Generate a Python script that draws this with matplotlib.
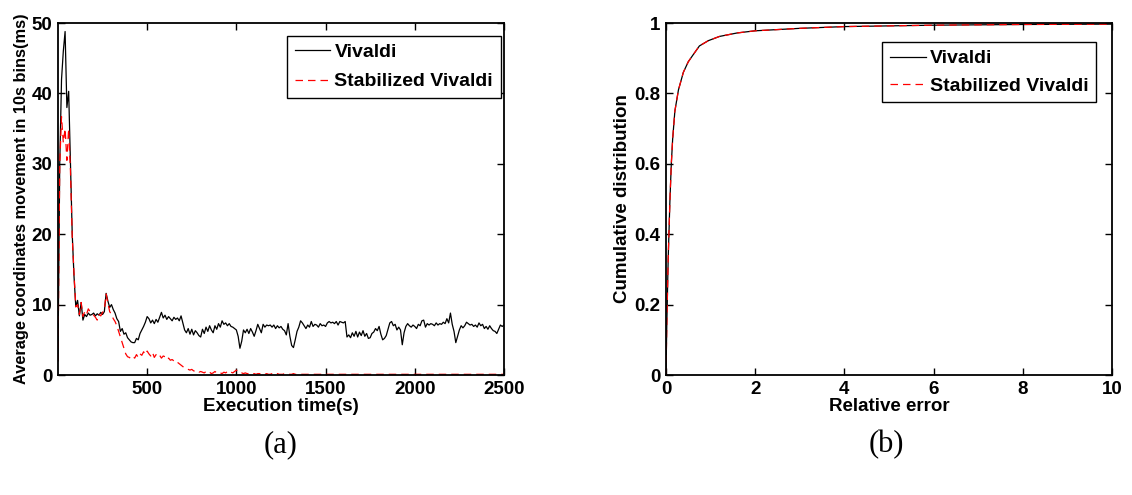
import numpy as np
import matplotlib.pyplot as plt

# left panel: average coordinate movement per 10 s bin
time_s = np.arange(0, 2510, 10)

vivaldi = [
    2, 30, 42, 46, 48.8, 38, 40.3, 30, 20, 14,
    9.7, 10.6, 8.4, 10.3, 7.8, 8.6, 8.3, 8.8, 8.5, 8.6,
    8.8, 8.4, 8.7, 8.5, 8.9, 8.6, 9.0, 11.6, 10.5, 9.6,
    10.0, 9.3, 8.8, 8.0, 7.6, 6.2, 6.6, 5.8, 6.0, 5.3,
    5.0, 4.7, 4.6, 4.6, 5.2, 5.0, 5.9, 6.4, 6.9, 7.5,
    8.3, 8.0, 7.4, 7.8, 7.3, 7.9, 7.5, 8.2, 8.9, 8.1,
    8.5, 7.9, 8.3, 8.0, 7.7, 8.2, 7.9, 8.1, 7.7, 8.4,
    7.4, 6.4, 6.0, 6.6, 5.8, 6.5, 5.7, 6.3, 6.0, 5.6,
    5.4, 6.5, 5.9, 6.8, 6.2, 7.0, 6.4, 6.0, 7.0, 6.5,
    7.3, 6.8, 7.7, 7.2, 7.4, 7.0, 7.3, 6.9, 6.8, 6.6,
    6.4, 5.5, 3.8, 4.8, 6.4, 6.0, 6.5, 5.9, 6.6, 6.1,
    5.5, 6.3, 7.2, 6.6, 6.0, 7.2, 6.8, 7.1, 7.0, 7.1,
    6.8, 7.1, 6.6, 7.0, 6.7, 6.9, 6.5, 6.3, 5.7, 7.3,
    5.5, 4.2, 3.9, 5.0, 6.2, 6.8, 7.7, 7.4, 7.0, 6.6,
    7.1, 6.8, 7.6, 6.9, 7.2, 7.1, 6.8, 7.3, 7.0, 7.1,
    6.9, 7.4, 7.6, 7.4, 7.5, 7.3, 7.6, 7.1, 7.6, 7.5,
    7.4, 7.6, 5.4, 5.7, 5.3, 6.0, 5.5, 6.2, 5.4, 6.1,
    5.6, 6.3, 5.5, 5.9, 5.2, 5.3, 5.9, 6.1, 6.6, 6.3,
    6.9, 5.8, 5.0, 5.2, 5.6, 6.5, 7.4, 7.6, 7.0, 7.2,
    6.4, 6.8, 6.4, 4.3, 6.0, 6.9, 7.3, 7.0, 6.8, 7.1,
    6.9, 6.6, 7.2, 7.0, 7.7, 7.8, 6.8, 7.3, 7.1, 7.3,
    7.2, 7.0, 7.4, 7.1, 7.3, 7.2, 7.5, 7.3, 8.0, 7.4,
    8.8, 7.2, 6.2, 4.6, 5.5, 6.4, 7.0, 6.7, 7.0, 7.5,
    7.3, 7.1, 7.2, 6.9, 7.1, 6.8, 7.4, 7.0, 7.2, 6.6,
    6.9, 6.5, 7.0, 6.6, 6.3, 6.2, 5.9, 6.5, 7.1, 6.9,
    7.1,
]

stabilized = [
    2, 30, 36.7, 33, 35, 30.5, 35, 29, 19.6, 14.4,
    9.7, 10.0, 8.6, 10.3, 8.3, 9.0, 8.6, 9.4, 9.0, 8.8,
    8.5, 8.2, 7.8, 8.6, 8.4, 8.9, 9.3, 11.5, 10.2, 9.0,
    8.6, 8.0, 7.6, 7.0, 6.2, 5.4, 4.6, 3.8, 3.0, 2.6,
    2.5, 2.3, 2.6, 2.4, 2.9, 2.5, 3.0, 2.8, 3.3, 2.9,
    3.4, 3.0, 2.7, 3.2, 2.5, 2.9, 2.6, 2.8, 2.4, 2.7,
    2.6, 2.2, 2.4, 2.1, 2.2, 2.0, 2.1, 1.8, 1.6, 1.4,
    1.2, 1.0, 0.9, 0.8, 0.7, 0.8, 0.6, 0.5, 0.6, 0.4,
    0.5, 0.4, 0.3, 0.5, 0.3, 0.4, 0.2, 0.3, 0.5, 0.3,
    0.4, 0.3, 0.2, 0.4, 0.3, 0.5, 0.6, 0.4, 0.3, 0.5,
    0.7, 0.4, 0.3, 0.3, 0.2, 0.3, 0.2, 0.2, 0.3, 0.2,
    0.2, 0.1, 0.2, 0.2, 0.1, 0.2, 0.1, 0.2, 0.1, 0.1,
    0.2, 0.1, 0.1, 0.2, 0.1, 0.1, 0.1, 0.2, 0.1, 0.1,
    0.1, 0.1, 0.2, 0.1, 0.1, 0.1, 0.1, 0.1, 0.1, 0.1,
    0.1, 0.1, 0.1, 0.1, 0.1, 0.1, 0.1, 0.1, 0.1, 0.1,
    0.1, 0.1, 0.1, 0.1, 0.1, 0.1, 0.1, 0.1, 0.1, 0.1,
    0.1, 0.1, 0.1, 0.1, 0.1, 0.1, 0.1, 0.1, 0.1, 0.1,
    0.1, 0.1, 0.1, 0.1, 0.1, 0.1, 0.1, 0.1, 0.1, 0.1,
    0.1, 0.1, 0.1, 0.1, 0.1, 0.1, 0.1, 0.1, 0.1, 0.1,
    0.1, 0.1, 0.1, 0.1, 0.1, 0.1, 0.1, 0.1, 0.1, 0.1,
    0.1, 0.1, 0.1, 0.1, 0.1, 0.1, 0.1, 0.1, 0.1, 0.1,
    0.1, 0.1, 0.1, 0.1, 0.1, 0.1, 0.1, 0.1, 0.1, 0.1,
    0.1, 0.1, 0.1, 0.1, 0.1, 0.1, 0.1, 0.1, 0.1, 0.1,
    0.1, 0.1, 0.1, 0.1, 0.1, 0.1, 0.1, 0.1, 0.1, 0.1,
    0.1, 0.1, 0.1, 0.1, 0.1, 0.1, 0.1, 0.1, 0.1, 0.1,
    0.1,
]

# right panel: CDF of relative error
rel_err = [0, 0.02, 0.05, 0.09, 0.12, 0.15, 0.2, 0.28, 0.39, 0.5, 0.61,
           0.75, 0.95, 1.2, 1.6, 2.0, 3.0, 4.0, 5.0, 6.0, 8.0, 10.0]
cdf_vivaldi = [0, 0.15, 0.33, 0.5, 0.6, 0.67, 0.75, 0.81, 0.86, 0.89, 0.91,
               0.935, 0.95, 0.962, 0.972, 0.978, 0.985, 0.99, 0.992, 0.994,
               0.996, 0.997]
cdf_stabilized = [0, 0.15, 0.33, 0.5, 0.6, 0.67, 0.75, 0.81, 0.86, 0.89, 0.91,
                  0.935, 0.95, 0.962, 0.972, 0.978, 0.985, 0.99, 0.992, 0.994,
                  0.996, 0.997]

plt.rcParams['font.family'] = 'Liberation Sans'
plt.rcParams['font.weight'] = 'bold'
plt.rcParams['font.size'] = 13.5

fig = plt.figure(figsize=(11.32, 4.95), dpi=100)
ax1 = fig.add_axes([0.0512, 0.2424, 0.394, 0.711])
ax2 = fig.add_axes([0.5883, 0.2424, 0.394, 0.711])

ax1.plot(time_s, vivaldi, color='black', lw=0.9, label='Vivaldi')
ax1.plot(time_s, stabilized, color='red', lw=0.9, dashes=(6, 4),
         label='Stabilized Vivaldi')
ax1.set_xlim(0, 2500)
ax1.set_ylim(0, 50)
ax1.set_xticks([500, 1000, 1500, 2000, 2500])
ax1.set_yticks([0, 10, 20, 30, 40, 50])
ax1.set_xlabel('Execution time(s)', fontweight='bold', labelpad=0)
ax1.set_ylabel('Average coordinates movement in 10s bins(ms)',
               fontweight='bold', fontsize=11.8, labelpad=2)

ax2.plot(rel_err, cdf_vivaldi, color='black', lw=0.9, label='Vivaldi')
ax2.plot(rel_err, cdf_stabilized, color='red', lw=0.9, dashes=(6, 4),
         label='Stabilized Vivaldi')
ax2.set_xlim(0, 10)
ax2.set_ylim(0, 1)
ax2.set_xticks([0, 2, 4, 6, 8, 10])
ax2.set_yticks([0, 0.2, 0.4, 0.6, 0.8, 1])
ax2.set_yticklabels(['0', '0.2', '0.4', '0.6', '0.8', '1'])
ax2.set_xlabel('Relative error', fontweight='bold', labelpad=0)
ax2.set_ylabel('Cumulative distribution', fontweight='bold', labelpad=2)

legend_spots = [(ax1, (0.2533, 0.9279), 0.6), (ax2, (0.7792, 0.9152), 0.5)]
for ax, anchor, spacing in legend_spots:
    ax.tick_params(direction='in', top=True, right=True, length=5, width=1,
                   pad=4)
    for sp in ax.spines.values():
        sp.set_linewidth(1.3)
    leg = ax.legend(loc='upper left', bbox_to_anchor=anchor,
                    bbox_transform=fig.transFigure, fontsize=14,
                    fancybox=False, framealpha=1, borderaxespad=0,
                    handlelength=1.85, handletextpad=0.2,
                    labelspacing=spacing, borderpad=0.4)
    leg.get_frame().set_edgecolor('black')
    leg.get_frame().set_linewidth(1.0)

fig.text(0.248, 0.101, '(a)', family='Liberation Serif', fontweight='normal',
         fontsize=22, ha='center', va='center')
fig.text(0.783, 0.101, '(b)', family='Liberation Serif', fontweight='normal',
         fontsize=22, ha='center', va='center')

fig.savefig('out.png', dpi=100)
